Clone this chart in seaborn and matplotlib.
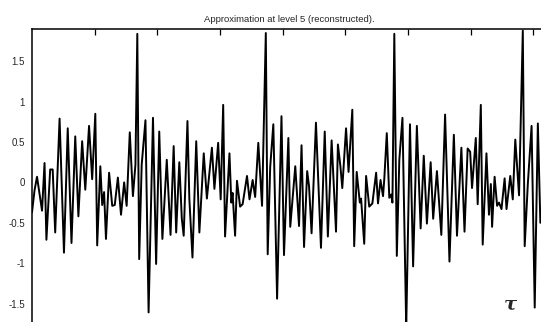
import matplotlib
matplotlib.use("Agg")
import matplotlib.pyplot as plt
import seaborn as sns

# reconstructed approximation (sample index, value)
t = [0, 4, 8, 16, 20, 23, 29, 33, 37, 44, 51, 57, 63, 69, 74, 80, 85, 91, 96, 101,
     104, 109, 112, 115, 118, 123, 128, 132, 137, 142, 147, 151, 156, 161, 165, 168, 171, 175, 181, 186,
     193, 198, 203, 208, 215, 221, 226, 230, 235, 239, 242, 248, 251, 256, 262, 267, 274, 279, 287, 291,
     297, 301, 305, 308, 315, 318, 320, 324, 327, 332, 336, 343, 347, 352, 356, 361, 367, 373, 376, 380,
     385, 391, 398, 402, 409, 412, 420, 426, 430, 434, 439, 442, 446, 453, 461, 467, 472, 478, 485, 488,
     492, 495, 501, 505, 511, 514, 518, 523, 525, 530, 533, 538, 543, 549, 552, 556, 560, 562, 566, 570,
     573, 575, 578, 582, 586, 591, 597, 603, 608, 614, 620, 625, 630, 636, 640, 646, 653, 659, 666, 673,
     678, 685, 690, 695, 699, 702, 708, 711, 716, 719, 725, 729, 732, 734, 738, 742, 745, 749, 754, 757,
     763, 767, 771, 777, 783, 786, 791, 797, 802, 807, 811]
a5 = [-0.37, -0.10, 0.07, -0.35, 0.24, -0.71, 0.16, 0.16, -0.62, 0.79, -0.87, 0.67, -0.75, 0.57, -0.42, 0.51, -0.09, 0.70, 0.04, 0.85,
      -0.78, 0.20, -0.28, -0.12, -0.70, 0.12, -0.29, -0.28, 0.06, -0.40, 0.00, -0.29, 0.62, -0.17, 0.22, 1.84, -0.95, 0.22, 0.77, -1.61,
      0.80, -1.01, 0.63, -0.70, 0.28, -0.65, 0.45, -0.62, 0.25, -0.45, -0.66, 0.76, -0.20, -0.93, 0.51, -0.62, 0.36, -0.20, 0.43, -0.08,
      0.49, -0.21, 0.96, -0.67, 0.36, -0.25, -0.13, -0.66, 0.02, -0.30, -0.27, 0.08, -0.21, 0.03, -0.18, 0.49, -0.29, 1.85, -0.89, 0.19,
      0.72, -1.44, 0.82, -0.90, 0.55, -0.55, 0.20, -0.54, 0.46, -0.80, 0.14, -0.05, -0.63, 0.74, -0.81, 0.63, -0.67, 0.52, -0.61, 0.47,
      0.20, -0.07, 0.67, 0.13, 0.90, -0.79, 0.13, -0.25, -0.20, -0.76, 0.08, -0.30, -0.26, 0.12, -0.26, 0.03, -0.17, 0.04, 0.61, -0.19,
      -0.15, -0.25, 1.84, -0.91, 0.28, 0.80, -1.80, 0.72, -1.04, 0.70, -0.57, 0.33, -0.51, 0.25, -0.45, 0.14, -0.65, 0.84, -0.98, 0.59,
      -0.66, 0.43, -0.61, 0.42, 0.38, -0.07, 0.55, -0.27, 0.96, -0.77, 0.36, -0.40, -0.02, -0.55, 0.07, -0.29, -0.25, -0.33, 0.05, -0.33,
      0.08, -0.21, 0.53, -0.16, 1.88, -0.79, -0.02, 0.70, -1.55, 0.73, -0.50]

y_ticks = [-1.5, -1, -0.5, 0, 0.5, 1, 1.5]
y_tick_labels = ["-1.5", "-1", "-0.5", "0", "0.5", "1", "1.5"]
x_ticks = [100, 200, 300, 400, 500, 600, 700, 800]

sns.set_style("white")
plt.rcParams["font.family"] = ["Liberation Sans", "DejaVu Sans"]

fig = plt.figure(figsize=(5.41, 3.22), dpi=100)
# axes runs slightly past the right and bottom edges, like the cropped scan
ax = fig.add_axes([32 / 541, -0.043, 514 / 541, 0.953])

sns.lineplot(x=t, y=a5, ax=ax, color="black", linewidth=1.4)

ax.set_xlim(0, 820)
ax.set_ylim(-1.9, 1.9)
ax.set_xticks(x_ticks)
ax.set_xticklabels([])
ax.set_yticks(y_ticks)
ax.set_yticklabels(y_tick_labels)
ax.tick_params(axis="both", direction="in", length=4, width=0.9, color="black",
               labelsize=7, top=True, right=False, pad=5)
for side in ax.spines.values():
    side.set_color("black")
    side.set_linewidth(1.1)
ax.set_xlabel("")
ax.set_ylabel("")
ax.set_title("Approximation at level 5 (reconstructed).", fontsize=6.8, pad=5)

fig.text(0.943, 0.055, "τ", family="DejaVu Serif", style="italic", weight="bold",
         fontsize=14, ha="center", va="center")

fig.savefig("out.png", dpi=100)
